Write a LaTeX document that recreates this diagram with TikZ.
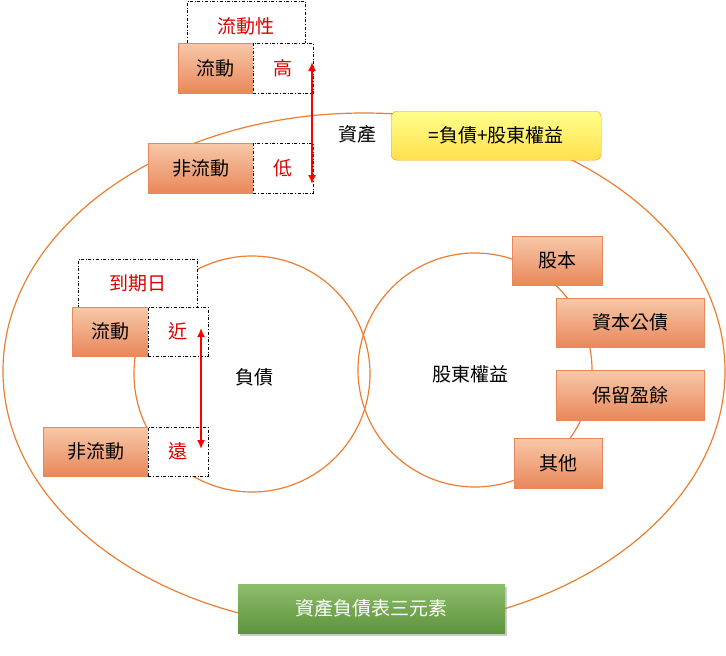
\documentclass[tikz,border=0pt]{standalone}
\usepackage{fontspec}
\setmainfont{Noto Sans CJK TC}
\usetikzlibrary{shadows}
\definecolor{org}{HTML}{ED7D31}
\definecolor{salm}{HTML}{F4B183}
\definecolor{salmd}{HTML}{E9875A}
\definecolor{grn}{HTML}{70AD47}
\begin{document}
\begin{tikzpicture}[x=1pt,y=-1pt,
  sbox/.style={draw=salmd,top color=salm!70!white,bottom color=salmd,font=\fontsize{19}{19}\selectfont},
  dbox/.style={draw=black,dash dot,fill=white,text=red!85!black,font=\fontsize{19}{19}\selectfont},
  arr/.style={red,line width=1.6pt,<->,>={Latex[length=9pt,width=8pt]}},
  lbl/.style={font=\fontsize{19}{19}\selectfont}]
\usetikzlibrary{arrows.meta}
\useasboundingbox (0,0) rectangle (726,656);
\draw[org,line width=1.2pt] (364,371) ellipse [x radius=361,y radius=258];
\draw[org,line width=1.2pt] (252,374) circle [radius=118];
\draw[org,line width=1.2pt] (475,370) circle [radius=117];
% assets
\node[dbox,minimum width=118,minimum height=51,anchor=north west] (lq) at (187,1) {流動性};
\node[sbox,minimum width=75,minimum height=50,anchor=north west] (ca) at (178,43) {流動};
\node[dbox,minimum width=60,minimum height=50,anchor=north west] (hi) at (253,43) {高};
\node[sbox,minimum width=105,minimum height=50,anchor=north west] (nca) at (148,143) {非流動};
\node[dbox,minimum width=60,minimum height=50,anchor=north west] (lo) at (253,143) {低};
\coordinate (a1) at (312,62); \coordinate (a2) at (312,184);
\draw[arr] (a1) -- (a2);
\node[lbl] (as) at (357,134) {資產};
\node[draw=orange!80!yellow,rounded corners=6pt,top color=yellow!45!white,bottom color=orange!35!yellow!70!white,minimum width=210,minimum height=49,anchor=north west,lbl] (eq) at (391,111) {=負債+股東權益};
% liabilities
\node[dbox,minimum width=119,minimum height=49,anchor=north west] (mat) at (78,259) {到期日};
\node[sbox,minimum width=76,minimum height=49,anchor=north west] (cl) at (72,307) {流動};
\node[dbox,minimum width=60,minimum height=49,anchor=north west] (near) at (148,307) {近};
\node[sbox,minimum width=105,minimum height=49,anchor=north west] (ncl) at (43,427) {非流動};
\node[dbox,minimum width=60,minimum height=49,anchor=north west] (far) at (148,427) {遠};
\coordinate (b1) at (201,328); \coordinate (b2) at (201,449);
\draw[arr] (b1) -- (b2);
\node[lbl] (li) at (254,377) {負債};
\node[lbl] (eqt) at (470,374) {股東權益};
% equity items
\node[sbox,minimum width=90,minimum height=49,anchor=north west] (s1) at (512,236) {股本};
\node[sbox,minimum width=148,minimum height=49,anchor=north west] (s2) at (556,298) {資本公債};
\node[sbox,minimum width=148,minimum height=50,anchor=north west] (s3) at (556,370) {保留盈餘};
\node[sbox,minimum width=88,minimum height=50,anchor=north west] (s4) at (514,438) {其他};
% title
\node[fill=grn,top color=grn!80!white,bottom color=grn!85!black,text=white,drop shadow={shadow xshift=2pt,shadow yshift=-3pt,opacity=0.4},minimum width=267,minimum height=49,anchor=north west,lbl] (tt) at (238,584) {資產負債表三元素};
\end{tikzpicture}
\end{document}
